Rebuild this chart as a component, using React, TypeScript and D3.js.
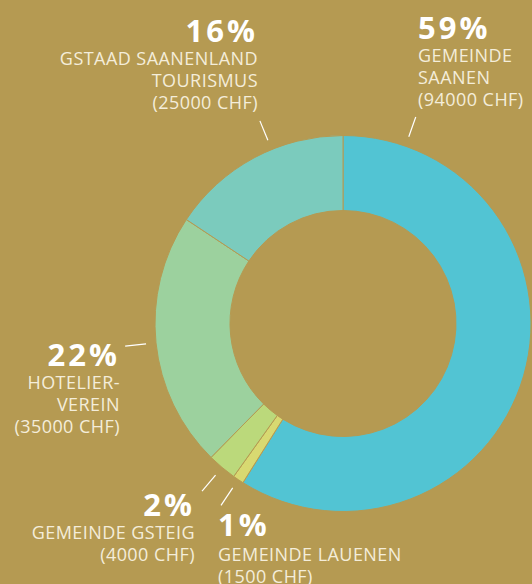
import React from "react";
import * as d3 from "d3";

const categories = ["GEMEINDE SAANEN", "GEMEINDE LAUENEN", "GEMEINDE GSTEIG", "HOTELIER-VEREIN", "GSTAAD SAANENLAND TOURISMUS"];
const values = [94000, 1500, 4000, 35000, 25000];
const pctLabels = ["59%", "1%", "2%", "22%", "16%"];
const labelLines = [
  ["GEMEINDE", "SAANEN", "(94000 CHF)"],
  ["GEMEINDE LAUENEN", "(1500 CHF)"],
  ["GEMEINDE GSTEIG", "(4000 CHF)"],
  ["HOTELIER-", "VEREIN", "(35000 CHF)"],
  ["GSTAAD SAANENLAND", "TOURISMUS", "(25000 CHF)"],
];
const colors = ["#52C4D3", "#D8D971", "#BBD97B", "#9CD19E", "#7BCBBD"];

// layout of annotations (not data)
const labelPos = [
  { x: 418, y: 39, anchor: "start" },
  { x: 218, y: 536, anchor: "start" },
  { x: 195, y: 516, anchor: "end" },
  { x: 120, y: 366, anchor: "end" },
  { x: 258, y: 42, anchor: "end" },
];
const leaderAngleDeg: (number | null)[] = [19.4, null, null, null, -22.3];

const W = 532, H = 584;
const cx = 343, cy = 323.5;
const outerR = 188, innerR = 113;
const BG = "#B59A52";

export default function App() {
  const pie = d3.pie<number>().sort(null).startAngle(0).endAngle(2 * Math.PI);
  const arcs = pie(values);
  const arc = d3.arc<d3.PieArcDatum<number>>().innerRadius(innerR).outerRadius(outerR);

  return (
    <svg width={W} height={H} style={{ position: "absolute", left: 0, top: 0, background: BG, display: "block" }}>
      <rect x={0} y={0} width={W} height={H} fill={BG} />
      <g transform={`translate(${cx},${cy})`}>
        {arcs.map((a, i) => (
          <path key={categories[i]} d={arc(a) as string} fill={colors[i]} stroke={BG} strokeWidth={1} />
        ))}
        {arcs.map((a, i) => {
          const ang = leaderAngleDeg[i] != null ? (leaderAngleDeg[i] as number) * Math.PI / 180 : (a.startAngle + a.endAngle) / 2;
          const r1 = 198, r2 = 219;
          return (
            <line key={"l" + i}
              x1={Math.sin(ang) * r1} y1={-Math.cos(ang) * r1}
              x2={Math.sin(ang) * r2} y2={-Math.cos(ang) * r2}
              stroke="#FFFFFF" strokeWidth={1.2} />
          );
        })}
      </g>
      {labelPos.map((p, i) => {
        const firstGap = i === 1 ? 25 : 23;
        return (
          <g key={"t" + i} fontFamily="'Open Sans', 'Noto Sans', sans-serif">
            <text x={p.x} y={p.y} textAnchor={p.anchor as any} fill="#FFFFFF" fontSize={31} fontWeight={700} letterSpacing={3}>
              {pctLabels[i]}
            </text>
            {labelLines[i].map((ln, j) => (
              <text key={j} x={p.x} y={p.y + firstGap + j * 22} textAnchor={p.anchor as any}
                fill="#F4EDDA" fontSize={18} fontWeight={400} letterSpacing={0.45}>
                {ln}
              </text>
            ))}
          </g>
        );
      })}
    </svg>
  );
}
